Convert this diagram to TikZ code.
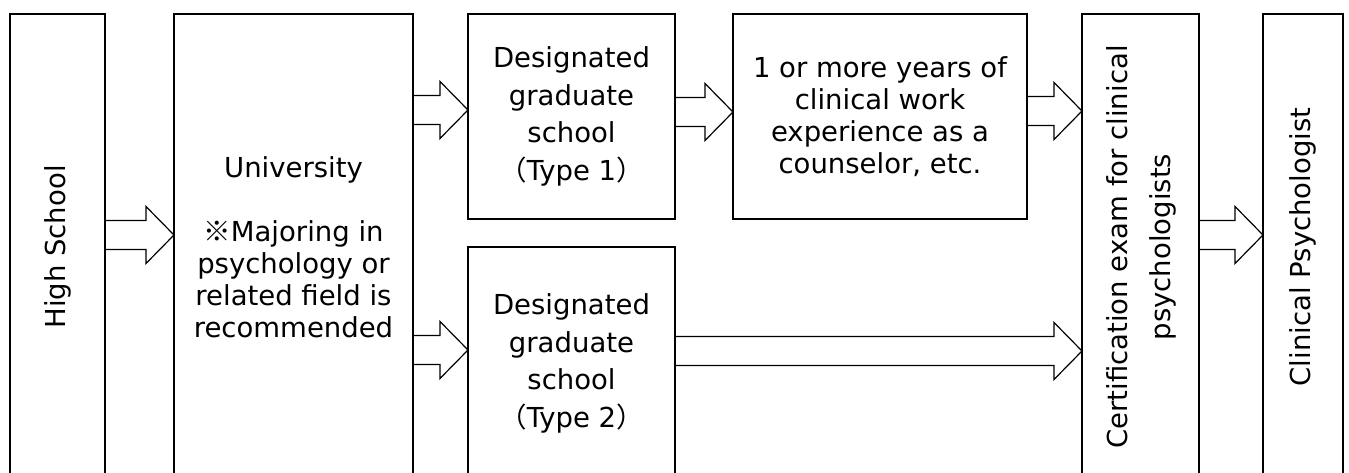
\documentclass[tikz,border=0pt]{standalone}
\usepackage{fontspec}
\setmainfont{DejaVu Sans}
\newfontfamily\cjk{Noto Sans CJK JP}
\usetikzlibrary{calc}

% block arrow from the east side of #1 to the west side of #2, tip at height #3
\newcommand{\fatarrow}[3]{%
  \coordinate (s) at (#1.east |- 0,#3);
  \coordinate (t) at (#2.west |- 0,#3);
  \draw [arrowline] ($(s)+(0,-14.5)$) -- ($(t)+(-28,-14.5)$) -- ($(t)+(-28,-28.5)$) -- (t)
    -- ($(t)+(-28,28.5)$) -- ($(t)+(-28,14.5)$) -- ($(s)+(0,14.5)$);
}

\begin{document}
\begin{tikzpicture}[x=1pt,y=-1pt,
box/.style={draw=black,line width=1.2pt,inner sep=0pt,outer sep=0pt,align=center,
  font=\fontsize{27.5}{32}\selectfont},
gsbox/.style={box,minimum width=207,font=\fontsize{27.5}{37.5}\selectfont},
arrowline/.style={black,line width=1.2pt,line join=miter}]

\useasboundingbox (0,0) rectangle (1349,473);

\node (hs) at (57.5,247) [box,minimum width=95,minimum height=466] {\rotatebox{90}{High School}};
\node (univ) at (293.5,247) [box,minimum width=239,minimum height=466]
  {University\\[32pt]{\cjk ※}Majoring in\\psychology or\\related field is\\recommended};

\node (gs1) at (571.5,116.5) [gsbox,minimum height=205]
  {Designated\\graduate\\school\\{\cjk （}Type 1{\cjk ）}};
\node (exp) at (880,116.5) [box,minimum width=294,minimum height=205]
  {1 or more years of\\clinical work\\experience as a\\counselor, etc.};
\node (gs2) at (571.5,363.5) [gsbox,minimum height=233]
  {Designated\\graduate\\school\\{\cjk （}Type 2{\cjk ）}};

\node (cert) at (1140.5,247) [box,minimum width=117,minimum height=466]
  {\rotatebox{90}{\fontsize{27.5}{43}\selectfont\begin{tabular}{@{}c@{}}Certification exam for clinical\\psychologists\end{tabular}}};
\node (cp) at (1303,247) [box,minimum width=80,minimum height=466] {\rotatebox{90}{Clinical Psychologist}};

\fatarrow{hs}{univ}{235}
\fatarrow{univ}{gs1}{110}
\fatarrow{univ}{gs2}{350}
\fatarrow{gs1}{exp}{112}
\fatarrow{exp}{cert}{111}
\fatarrow{gs2}{cert}{351}
\fatarrow{cert}{cp}{235}

\end{tikzpicture}
\end{document}
